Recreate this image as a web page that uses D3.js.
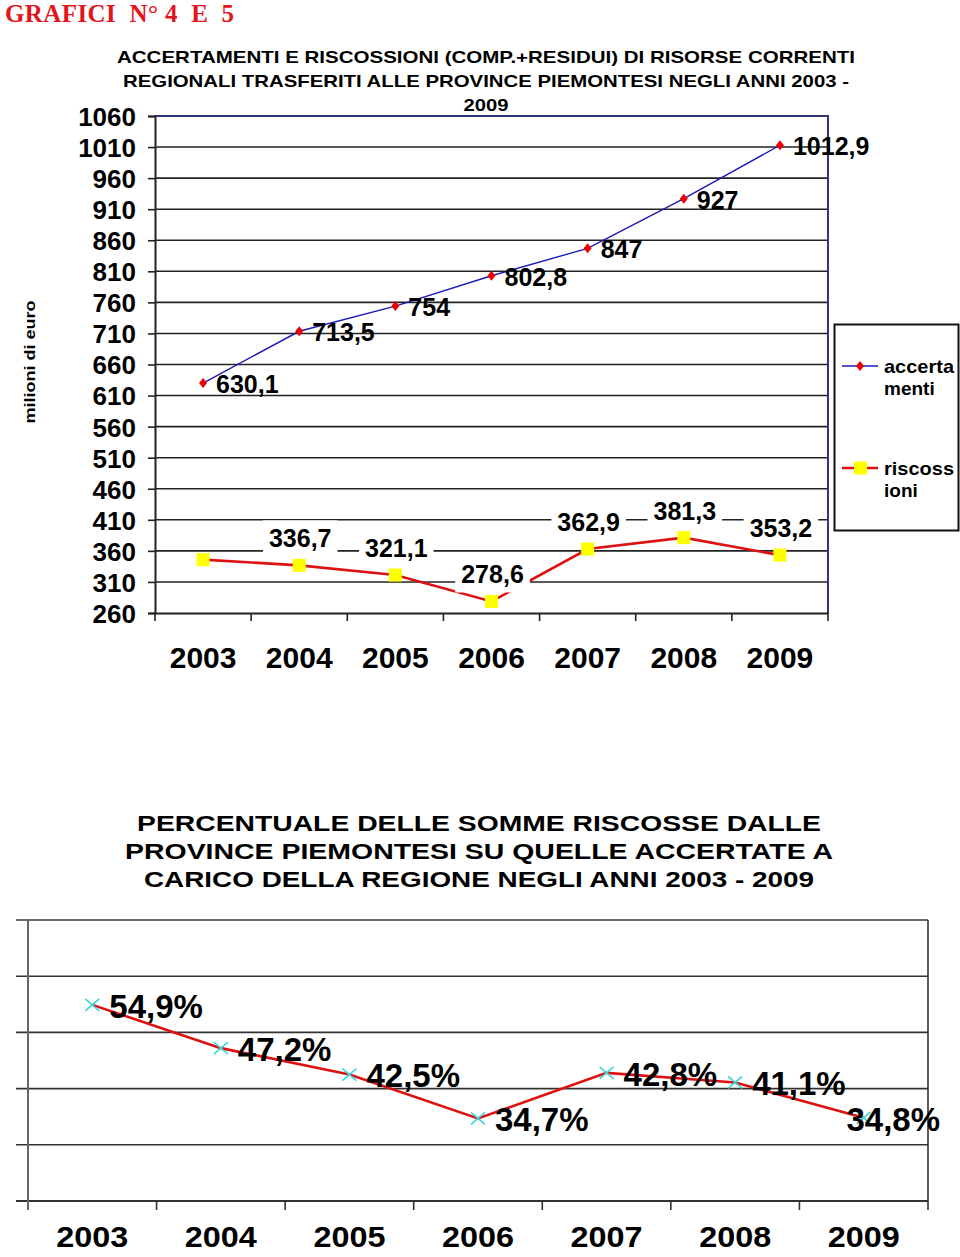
<!DOCTYPE html>
<html><head><meta charset="utf-8">
<script src="https://cdn.jsdelivr.net/npm/d3@7"></script>
<style>body{margin:0;background:#fff}svg{display:block}</style>
</head><body>
<script>
const years = ["2003","2004","2005","2006","2007","2008","2009"];
const accertamenti = [630.1, 713.5, 754, 802.8, 847, 927, 1012.9];
const riscossioni = [345.9, 336.7, 321.1, 278.6, 362.9, 381.3, 353.2];
const accLabels = ["630,1","713,5","754","802,8","847","927","1012,9"];
const risLabels = [null,"336,7","321,1","278,6","362,9","381,3","353,2"];
const yTicks1 = [260,310,360,410,460,510,560,610,660,710,760,810,860,910,960,1010,1060];
const percent = [54.9, 47.2, 42.5, 34.7, 42.8, 41.1, 34.8];
const pctLabels = ["54,9%","47,2%","42,5%","34,7%","42,8%","41,1%","34,8%"];
const yTicks2 = [20,30,40,50,60,70];
const title1 = ["ACCERTAMENTI E RISCOSSIONI (COMP.+RESIDUI) DI RISORSE CORRENTI",
                "REGIONALI TRASFERITI ALLE PROVINCE PIEMONTESI NEGLI ANNI 2003 -",
                "2009"];
const title2 = ["PERCENTUALE DELLE SOMME RISCOSSE DALLE",
                "PROVINCE PIEMONTESI SU QUELLE ACCERTATE A",
                "CARICO DELLA REGIONE NEGLI ANNI 2003 - 2009"];
const legendNames = [["accerta","menti"],["riscoss","ioni"]];

const W = 960, H = 1257;
const F = "'Liberation Sans', Arial, Helvetica, sans-serif";
const svg = d3.select("body").append("svg").attr("width", W).attr("height", H)
  .style("font-family", F);

// Header
svg.append("text").attr("x",5).attr("y",22).attr("fill","#e3141b")
  .style("font-family","'Liberation Serif','Times New Roman',serif")
  .style("font-weight","bold").style("font-size","25px")
  .attr("textLength",229).attr("lengthAdjust","spacing")
  .attr("xml:space","preserve").style("white-space","pre")
  .text("GRAFICI  N° 4  E  5");

// ===== Chart 1 =====
const t1Len = [738, 726, 45];
title1.forEach((t,i)=>{
  svg.append("text").attr("x",486).attr("y",63+i*24)
    .attr("text-anchor","middle").style("font-weight","bold").style("font-size","17px")
    .attr("textLength",t1Len[i]).attr("lengthAdjust","spacingAndGlyphs").text(t);
});

const x1 = d3.scaleBand().domain(years).range([155, 828]);
const y1 = d3.scaleLinear().domain([260, 1060]).range([613, 116]);
const g1 = svg.append("g");

// gridlines
g1.selectAll("line.grid").data(yTicks1.filter(v=>v>260 && v<1060)).join("line")
  .attr("x1",155).attr("x2",828).attr("y1",d=>y1(d)).attr("y2",d=>y1(d))
  .attr("stroke","#222").attr("stroke-width",1.6);
// frame top & right
g1.append("path").attr("d",`M155,${y1(1060)}H828V${y1(260)}`).attr("fill","none")
  .attr("stroke","#333377").attr("stroke-width",2);

// y axis
const yAx1 = g1.append("g").attr("transform","translate(155,0)")
  .call(d3.axisLeft(y1).tickValues(yTicks1).tickSize(7).tickPadding(12).tickFormat(d3.format("d")));
yAx1.select(".domain").attr("stroke","#222").attr("stroke-width",2);
yAx1.selectAll(".tick line").attr("stroke","#222").attr("stroke-width",1.6);
yAx1.selectAll(".tick text").style("font-size","26px").style("font-weight","bold")
  .style("font-family",F).attr("fill","#000").attr("dy","0.36em");

// x axis
const xAx1 = g1.append("g").attr("transform",`translate(0,${y1(260)})`)
  .call(d3.axisBottom(x1).tickSize(0).tickPadding(34));
xAx1.select(".domain").attr("stroke","#222").attr("stroke-width",2);
xAx1.selectAll(".tick text").style("font-size","30px").style("font-weight","bold")
  .style("font-family",F).attr("fill","#000");
g1.selectAll("line.xt").data(d3.range(years.length+1)).join("line")
  .attr("x1",i=>x1.range()[0]+i*x1.bandwidth()).attr("x2",i=>x1.range()[0]+i*x1.bandwidth())
  .attr("y1",y1(260)).attr("y2",y1(260)+8).attr("stroke","#222").attr("stroke-width",1.6);

const cx1 = d=>x1(d)+x1.bandwidth()/2;

// lines
g1.append("path").datum(accertamenti.map((v,i)=>[cx1(years[i]),y1(v)]))
  .attr("d",d3.line()).attr("fill","none").attr("stroke","#1a1ab8").attr("stroke-width",1.4);
g1.append("path").datum(riscossioni.map((v,i)=>[cx1(years[i]),y1(v)]))
  .attr("d",d3.line()).attr("fill","none").attr("stroke","#dd1111").attr("stroke-width",2.6);

// markers
g1.selectAll("path.dia").data(accertamenti).join("path")
  .attr("transform",(d,i)=>`translate(${cx1(years[i])},${y1(d)})`)
  .attr("d","M0,-5L4,0L0,5L-4,0Z").attr("fill","#ee0000");
g1.selectAll("rect.sq").data(riscossioni).join("rect")
  .attr("x",(d,i)=>cx1(years[i])-6.5).attr("y",d=>y1(d)-6.5)
  .attr("width",13).attr("height",13).attr("fill","#ffff00");

// accertamenti labels
g1.selectAll("text.al").data(accertamenti).join("text")
  .attr("x",(d,i)=>cx1(years[i])+13).attr("y",d=>y1(d)+1).attr("dy","0.36em")
  .style("font-size","25px").style("font-weight","bold").text((d,i)=>accLabels[i]);

// riscossioni labels with white box
riscossioni.forEach((v,i)=>{
  if (!risLabels[i]) return;
  const lx = cx1(years[i])+1, ly = y1(v)-27;
  const bg = g1.append("rect").attr("fill","#fff");
  const t = g1.append("text").attr("x",lx).attr("y",ly).attr("dy","0.36em")
    .attr("text-anchor","middle").style("font-size","25px").style("font-weight","bold").text(risLabels[i]);
  const w = t.node().getComputedTextLength();
  bg.attr("x",lx-w/2-6).attr("y",ly-18).attr("width",w+12).attr("height",36);
});

// y label
svg.append("text").attr("transform","translate(35,362) rotate(-90)")
  .attr("text-anchor","middle").style("font-size","15px").style("font-weight","bold")
  .attr("textLength",123).attr("lengthAdjust","spacingAndGlyphs").text("milioni di euro");

// legend
const lg = svg.append("g");
lg.append("rect").attr("x",834.5).attr("y",324.5).attr("width",124).attr("height",206)
  .attr("fill","#fff").attr("stroke","#111").attr("stroke-width",2);
[366,468].forEach((yy,k)=>{
  lg.append("line").attr("x1",842).attr("x2",878).attr("y1",yy).attr("y2",yy)
    .attr("stroke",k?"#dd1111":"#1a1ab8").attr("stroke-width",k?2.6:1.4);
  if (k===0) lg.append("path").attr("transform",`translate(860,${yy})`)
    .attr("d","M0,-5L4,0L0,5L-4,0Z").attr("fill","#ee0000");
  else lg.append("rect").attr("x",854).attr("y",yy-6.5).attr("width",13).attr("height",13).attr("fill","#ffff00");
  legendNames[k].forEach((s,j)=>{
    lg.append("text").attr("x",884).attr("y",yy+j*22).attr("dy","0.36em")
      .style("font-size","19px").style("font-weight","bold")
      .attr("textLength", j===0 ? 70 : null).attr("lengthAdjust","spacingAndGlyphs").text(s);
  });
});

// ===== Chart 2 =====
const t2Len = [684, 708, 670];
title2.forEach((t,i)=>{
  svg.append("text").attr("x",479).attr("y",831+i*28).attr("text-anchor","middle")
    .style("font-weight","bold").style("font-size","22px")
    .attr("textLength",t2Len[i]).attr("lengthAdjust","spacingAndGlyphs").text(t);
});

const x2 = d3.scaleBand().domain(years).range([28, 928]);
const y2 = d3.scaleLinear().domain([20, 70]).range([1201, 920]);
const g2 = svg.append("g");
g2.selectAll("line.grid").data(yTicks2).join("line")
  .attr("x1",16).attr("x2",928).attr("y1",d=>y2(d)).attr("y2",d=>y2(d))
  .attr("stroke","#333").attr("stroke-width",d=>d===20?2.2:1.6);
g2.append("line").attr("x1",28).attr("x2",28).attr("y1",y2(70)).attr("y2",y2(20)+9)
  .attr("stroke","#666").attr("stroke-width",2);
g2.append("line").attr("x1",928).attr("x2",928).attr("y1",y2(70)).attr("y2",y2(20)+9)
  .attr("stroke","#333").attr("stroke-width",1.6);
g2.selectAll("line.xt").data(d3.range(1,years.length)).join("line")
  .attr("x1",i=>28+i*x2.bandwidth()).attr("x2",i=>28+i*x2.bandwidth())
  .attr("y1",y2(20)).attr("y2",y2(20)+9).attr("stroke","#333").attr("stroke-width",1.6);
const xAx2 = g2.append("g").attr("transform",`translate(0,${y2(20)})`)
  .call(d3.axisBottom(x2).tickSize(0).tickPadding(25));
xAx2.select(".domain").remove();
xAx2.selectAll(".tick text").style("font-size","30px").style("font-weight","bold")
  .style("font-family",F).attr("fill","#000").attr("textLength",72).attr("lengthAdjust","spacingAndGlyphs");

const cx2 = d=>x2(d)+x2.bandwidth()/2;
g2.append("path").datum(percent.map((v,i)=>[cx2(years[i]),y2(v)]))
  .attr("d",d3.line()).attr("fill","none").attr("stroke","#dd1111").attr("stroke-width",2.6);
g2.selectAll("path.x").data(percent).join("path")
  .attr("transform",(d,i)=>`translate(${cx2(years[i])},${y2(d)})`)
  .attr("d","M-7,-6L7,6M-7,6L7,-6").attr("stroke","#3cd6d6").attr("stroke-width",1.6).attr("fill","none");
percent.forEach((v,i)=>{
  const t = g2.append("text").attr("x",cx2(years[i])+17).attr("y",y2(v)+1).attr("dy","0.36em")
    .style("font-size","33px").style("font-weight","bold").text(pctLabels[i]);
  const w = t.node().getComputedTextLength();
  if (cx2(years[i])+17+w > 944) t.attr("x", 940-w);
});
</script>
</body></html>
